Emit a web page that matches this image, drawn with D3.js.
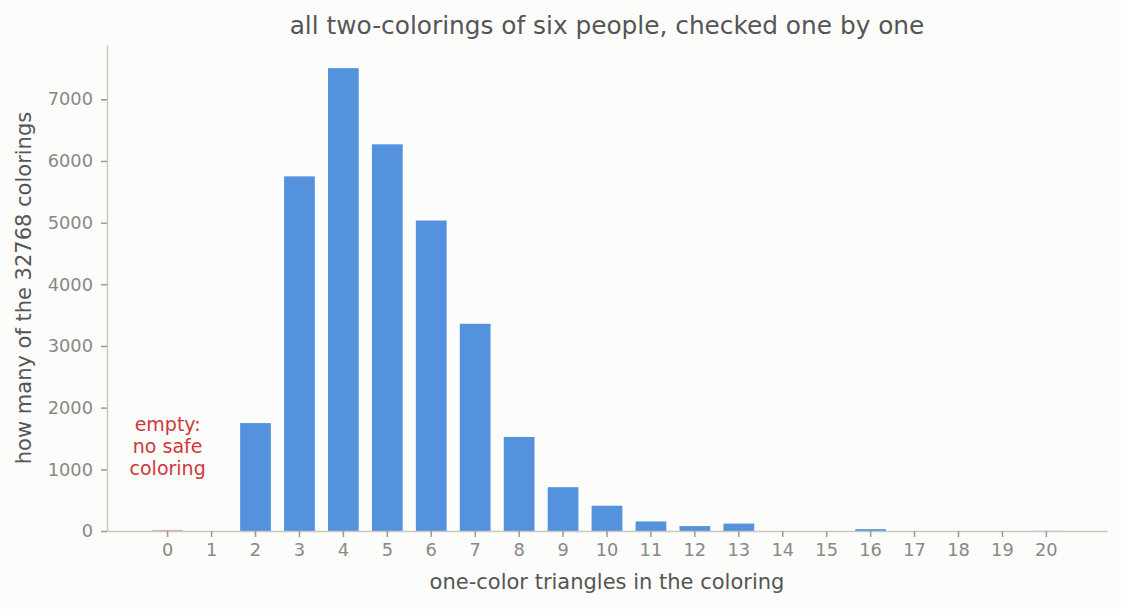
<!DOCTYPE html>
<html>
<head>
<meta charset="utf-8">
<script src="https://cdn.jsdelivr.net/npm/d3@7"></script>
<style>
  body { margin: 0; background: #fcfcfa; }
  svg text { font-family: "DejaVu Sans", sans-serif; }
  .axis path, .axis line { stroke: #c8c8c0; }
  .axis .tick line { stroke: #999; }
  .axis text { fill: #888; font-size: 17.8px; font-family: "DejaVu Sans", sans-serif; }
</style>
</head>
<body>
<script>
// triangles of one colour -> how many colourings have that count
var triangles = d3.range(0, 21);
var counts = [0, 0, 1750, 5750, 7505, 6270, 5035, 3360, 1525, 710, 410, 155, 80, 120, 0, 0, 30, 0, 0, 0, 2];
var yTicks = [0, 1000, 2000, 3000, 4000, 5000, 6000, 7000];

var w = 1121, h = 609;
var margin = {top: 45, right: 14, bottom: 78, left: 107};

var svg = d3.select("body").append("svg")
    .attr("width", w)
    .attr("height", h);

var x = d3.scaleBand()
    .domain(triangles)
    .range([margin.left, w - margin.right])
    .paddingInner(0.3)
    .paddingOuter(1.03);

var y = d3.scaleLinear()
    .domain([0, d3.max(counts) * 1.05])
    .range([h - margin.bottom, margin.top]);

svg.append("text")
    .attr("x", 607)
    .attr("y", 34)
    .attr("text-anchor", "middle")
    .attr("fill", "#555")
    .style("font-size", "24.8px")
    .text("all two-colorings of six people, checked one by one");

// bars
svg.selectAll(".bar")
    .data(triangles)
    .enter()
    .append("rect")
    .attr("class", "bar")
    .attr("x", function(d){ return x(d); })
    .attr("width", x.bandwidth())
    .attr("y", function(d){ return y(counts[d]); })
    .attr("height", function(d){ return y(0) - y(counts[d]); })
    .attr("fill", "#5492de");

// the empty bar at 0 gets a faint red mark
svg.append("line")
    .attr("x1", x(0))
    .attr("x2", x(0) + x.bandwidth())
    .attr("y1", y(0) - 0.5)
    .attr("y2", y(0) - 0.5)
    .attr("stroke", "#e2a6a4")
    .attr("stroke-width", 1.2);

var xAxis = d3.axisBottom(x).tickSize(6).tickPadding(6).tickSizeOuter(0);
var yAxis = d3.axisLeft(y).tickValues(yTicks).tickFormat(d3.format("d"))
    .tickSize(6).tickPadding(8).tickSizeOuter(0);

var gx = svg.append("g")
    .attr("class", "axis")
    .attr("transform", "translate(0," + y(0) + ")")
    .call(xAxis);
gx.select(".domain").attr("stroke-width", 1.5);

var gy = svg.append("g")
    .attr("class", "axis")
    .attr("transform", "translate(" + margin.left + ",0)")
    .call(yAxis);
gy.select(".domain").attr("stroke-width", 1.5);
gx.selectAll(".tick line").attr("stroke-width", 1.5);
gy.selectAll(".tick line").attr("stroke-width", 1.5);

svg.append("text")
    .attr("x", 607)
    .attr("y", 589)
    .attr("text-anchor", "middle")
    .attr("fill", "#555")
    .style("font-size", "21px")
    .text("one-color triangles in the coloring");

svg.append("text")
    .attr("transform", "translate(31," + 288 + ") rotate(-90)")
    .attr("text-anchor", "middle")
    .attr("fill", "#555")
    .style("font-size", "21px")
    .text("how many of the 32768 colorings");

var note = svg.append("text")
    .attr("text-anchor", "middle")
    .attr("fill", "#d0383c")
    .style("font-size", "19px");
["empty:", "no safe", "coloring"].forEach(function(t, i){
    note.append("tspan")
        .attr("x", x(0) + x.bandwidth() / 2)
        .attr("y", 431 + i * 22)
        .text(t);
});
</script>
</body>
</html>
